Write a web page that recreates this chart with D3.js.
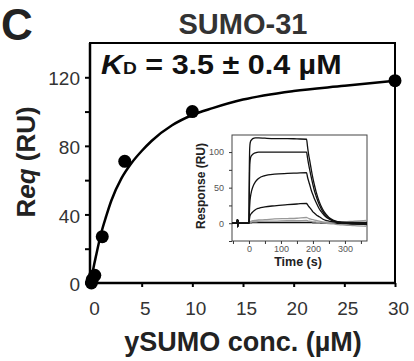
<!DOCTYPE html>
<html>
<head>
<meta charset="utf-8">
<script src="https://cdn.jsdelivr.net/npm/d3@7"></script>
<style>
  html, body { margin: 0; padding: 0; background: #fff; }
  text { font-family: "Liberation Sans", Arial, sans-serif; }
</style>
</head>
<body>
<div id="chart"></div>
<script>
// binding isotherm: ySUMO concentration (uM) vs equilibrium response (RU)
const concUM = [0.04, 0.12, 0.37, 1.11, 3.33, 10, 30];
const reqRU = [0, 2, 4.5, 27, 71, 100, 118];

// fitted curve (Kd = 3.5 uM)
const fitConc = [0, 0.25, 0.5, 1, 1.5, 2, 3, 4, 5, 6, 8, 10, 12, 15, 20, 25, 30];
const fitReq = [0, 9, 16, 29, 39, 48, 61, 70, 77, 83, 92, 98, 102, 107, 112, 115, 118];

const xTicks = [0, 5, 10, 15, 20, 25, 30];
const yTicks = [0, 20, 40, 60, 80, 100, 120];
const yLabels = [0, 40, 80, 120];

// inset sensorgrams: time (s) and response (RU) for each injection
const timeS = [-53, -38, -36, -35, -34, -32, -1, 0, 1, 2, 3, 5, 8, 12, 20, 30, 50, 80, 120, 150, 180,
  183, 186, 190, 195, 200, 205, 210, 220, 230, 240, 250, 265, 280, 300, 330, 369];
const trace1 = [0, 0, 5, -5, 4, 0, 0, 0, 70, 100, 110, 115, 117, 119, 120, 120, 119.5, 119, 119, 118.5, 118,
  108, 98, 88, 75, 63, 53, 44, 30, 20, 13, 8, 4, 2, 1, 1, 1];
const trace2 = [0, 0, 5, -5, 4, 0, 0, 0, 40, 70, 85, 92, 95, 97, 99, 100, 100, 100, 100, 100, 100,
  92, 84, 75, 64, 54, 45, 38, 26, 17, 11, 7, 3, 2, 1, 0, 0];
const trace3 = [0, 0, 5, -5, 4, 0, 0, 0, 12, 22, 30, 38, 45, 51, 58, 63, 67, 69, 70, 70.5, 71,
  65, 60, 54, 46, 40, 34, 29, 20, 14, 9, 6, 3, 1, 0, -1, -2];
const trace4 = [0, 0, 5, -5, 4, 0, 0, 0, 4, 7, 10, 12, 14, 16, 19, 21, 23, 24.5, 26, 27, 28,
  26, 24, 22, 19, 16, 14, 12, 9, 6, 4, 3, 2, 1, 0, -1, -1];
const trace5 = [0, 0, 5, -5, 4, 0, 0, 0, 1, 1.5, 2, 2.5, 3, 3.5, 4, 4.5, 5, 6, 6.5, 7, 8,
  7.5, 7, 6, 5.5, 5, 4.5, 4, 3, 2, 1.5, 1, 1, 1.5, 2, 3, 4];
const trace6 = [0, 0, 5, -5, 4, 0, 0, 0, 0.5, 1, 1, 1.5, 1.5, 2, 2, 2.5, 3, 3, 3.5, 3.5, 4,
  3.5, 3, 3, 2.5, 2, 2, 1.5, 1, 0.5, 0, -0.5, -1, -2, -2.5, -3.5, -4.5];
const trace7 = [0, 0, 5, -5, 4, 0, 0, 0, 0, 0.5, 0.5, 0.5, 0.5, 1, 1, 1, 1, 1, 1, 1, 1,
  1, 1, 1, 1, 0.5, 0.5, 0.5, 0.5, 0, 0, 0, 0, -0.5, -1, -1, -1.5];
const traces = [trace1, trace2, trace3, trace4, trace5, trace6, trace7];
const traceColors = ["#111", "#111", "#111", "#111", "#999", "#999", "#111"];
const insetXTicks = [0, 100, 200, 300];
const insetYTicks = [0, 50, 100];

const W = 414, H = 361;
const svg = d3.select("#chart").append("svg")
  .attr("width", W).attr("height", H)
  .style("background", "#fff");

// main plot
const x = d3.scaleLinear().domain([-0.1, 30]).range([90, 395]);
const y = d3.scaleLinear().domain([0, 140]).range([283, 43]);

svg.append("rect")
  .attr("x", 90).attr("y", 43).attr("width", 305).attr("height", 240)
  .attr("fill", "none").attr("stroke", "#000").attr("stroke-width", 2);

const yAxis = svg.append("g")
  .attr("transform", "translate(90,0)")
  .call(d3.axisLeft(y).tickValues(yTicks).tickSize(5).tickPadding(5)
    .tickFormat(d => yLabels.includes(d) ? d : ""));
yAxis.select(".domain").attr("stroke-width", 2.5).attr("d", "M0,43V283");
yAxis.selectAll(".tick line").attr("stroke-width", 2);
yAxis.selectAll(".tick text")
  .attr("font-size", 19).attr("fill", "#333").attr("dy", "0.4em");

const xAxis = svg.append("g")
  .attr("transform", "translate(0,283)")
  .call(d3.axisBottom(x).tickValues(xTicks).tickSize(4).tickPadding(15));
xAxis.select(".domain").attr("stroke-width", 2.5).attr("d", "M90,0H395");
xAxis.selectAll(".tick line").attr("stroke-width", 2);
xAxis.selectAll(".tick text")
  .attr("font-size", 19).attr("fill", "#333").attr("dx", 3);

const line = d3.line()
  .x((d, i) => x(fitConc[i]))
  .y(d => y(d))
  .curve(d3.curveMonotoneX);

svg.append("path")
  .datum(fitReq)
  .attr("d", line)
  .attr("fill", "none")
  .attr("stroke", "#000")
  .attr("stroke-width", 2.5);

svg.selectAll(".pt")
  .data(reqRU)
  .enter().append("circle")
  .attr("class", "pt")
  .attr("cx", (d, i) => x(concUM[i]))
  .attr("cy", d => y(d))
  .attr("r", 6.5)
  .attr("fill", "#000");

// titles
svg.append("text").attr("x", 1).attr("y", 40)
  .attr("font-size", 44).attr("font-weight", "bold").attr("fill", "#222").text("C");

svg.append("text").attr("x", 243).attr("y", 34).attr("text-anchor", "middle")
  .attr("font-size", 29).attr("font-weight", "bold").attr("fill", "#333").text("SUMO-31");

const kd = svg.append("text")
  .attr("transform", "translate(101,74) scale(1.13,1)")
  .attr("font-size", 27).attr("font-weight", "bold").attr("fill", "#111");
kd.append("tspan").attr("font-style", "italic").text("K");
kd.append("tspan").attr("font-size", 17).text("D");
kd.append("tspan").text(" = 3.5 ± 0.4 µM");

const yTitle = svg.append("text")
  .attr("transform", "translate(35,162) rotate(-90)")
  .attr("text-anchor", "middle")
  .attr("font-size", 26).attr("font-weight", "bold").attr("fill", "#222");
yTitle.append("tspan").text("R");
yTitle.append("tspan").attr("font-style", "italic").text("eq");
yTitle.append("tspan").text(" (RU)");

svg.append("text").attr("x", 243).attr("y", 351).attr("text-anchor", "middle")
  .attr("font-size", 27).attr("font-weight", "bold").attr("fill", "#222")
  .text("ySUMO conc. (µM)");

// inset
const ix = d3.scaleLinear().domain([-53, 369]).range([232, 367]);
const iy = d3.scaleLinear().domain([-25, 124]).range([241, 135]);

svg.append("rect")
  .attr("x", 232).attr("y", 135).attr("width", 135).attr("height", 106)
  .attr("fill", "#fff").attr("stroke", "#444").attr("stroke-width", 1);

const ixAxis = svg.append("g")
  .attr("transform", "translate(0,241)")
  .call(d3.axisBottom(ix).tickValues(d3.range(-50, 370, 50)).tickSize(3).tickPadding(2)
    .tickFormat(d => insetXTicks.includes(d) ? d : ""));
ixAxis.select(".domain").remove();
ixAxis.selectAll(".tick line").attr("stroke", "#333");
ixAxis.selectAll(".tick text").attr("font-size", 9).attr("fill", "#555");

const iyAxis = svg.append("g")
  .attr("transform", "translate(232,0)")
  .call(d3.axisLeft(iy).tickValues(d3.range(-25, 125, 25)).tickSize(3).tickPadding(5)
    .tickFormat(d => insetYTicks.includes(d) ? d : ""));
iyAxis.select(".domain").remove();
iyAxis.selectAll(".tick line").attr("stroke", "#333");
iyAxis.selectAll(".tick text").attr("font-size", 9).attr("fill", "#555");

const trLine = d3.line()
  .x((d, i) => ix(timeS[i]))
  .y(d => iy(d))
  .curve(d3.curveMonotoneX);

svg.selectAll(".trace")
  .data(traces.slice().reverse())
  .enter().append("path")
  .attr("class", "trace")
  .attr("d", trLine)
  .attr("fill", "none")
  .attr("stroke", (d, i) => traceColors.slice().reverse()[i])
  .attr("stroke-width", 1.3);

svg.append("text")
  .attr("transform", "translate(205,186) rotate(-90)")
  .attr("text-anchor", "middle")
  .attr("font-size", 12).attr("font-weight", "bold").attr("fill", "#222")
  .text("Response (RU)");

svg.append("text").attr("x", 298).attr("y", 266).attr("text-anchor", "middle")
  .attr("font-size", 12.5).attr("font-weight", "bold").attr("fill", "#222")
  .text("Time (s)");
</script>
</body>
</html>
